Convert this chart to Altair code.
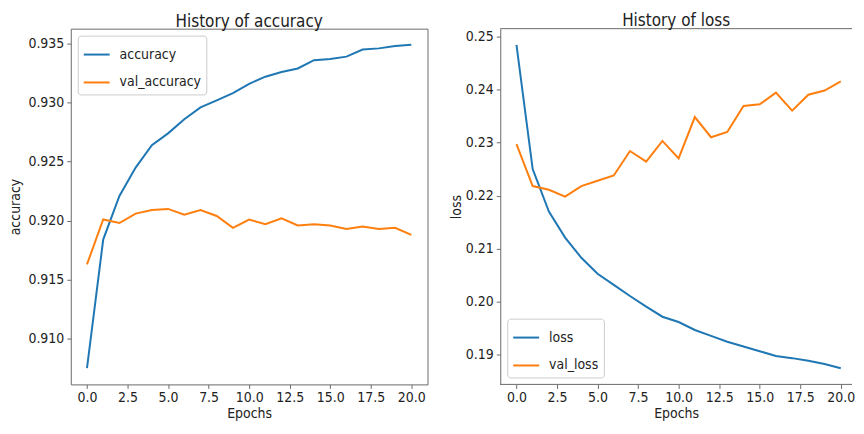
import altair as alt
import pandas as pd

epochs = list(range(21))
accuracy = [0.9075, 0.9184, 0.9221, 0.9245, 0.9264, 0.9274, 0.9286, 0.9296, 0.9302, 0.9308,
            0.9316, 0.9322, 0.9326, 0.9329, 0.9336, 0.9337, 0.9339, 0.9345, 0.9346, 0.9348, 0.9349]
val_accuracy = [0.9163, 0.9201, 0.9198, 0.9206, 0.9209, 0.9210, 0.9205, 0.9209, 0.9204, 0.9194,
                0.9201, 0.9197, 0.9202, 0.9196, 0.9197, 0.9196, 0.9193, 0.9195, 0.9193, 0.9194, 0.9188]
loss = [0.2484, 0.2250, 0.2170, 0.2121, 0.2083, 0.2053, 0.2032, 0.2011, 0.1991, 0.1972,
        0.1962, 0.1947, 0.1936, 0.1925, 0.1916, 0.1907, 0.1898, 0.1894, 0.1889, 0.1883, 0.1875]
val_loss = [0.2297, 0.2218, 0.2211, 0.2198, 0.2218, 0.2228, 0.2238, 0.2284, 0.2264, 0.2303,
            0.2270, 0.2348, 0.2310, 0.2320, 0.2369, 0.2372, 0.2394, 0.2360, 0.2390, 0.2398, 0.2415]

x_ticks = [0, 2.5, 5, 7.5, 10, 12.5, 15, 17.5, 20]
acc_ticks = [0.910, 0.915, 0.920, 0.925, 0.930, 0.935]
loss_ticks = [0.19, 0.20, 0.21, 0.22, 0.23, 0.24, 0.25]

BLUE = "#1f77b4"
ORANGE = "#ff7f0e"
FONT = "DejaVu Sans Condensed"
SPINE = "#6a6a6a"
TEXT = "#222222"


def padded(vals):
    lo, hi = min(vals), max(vals)
    m = (hi - lo) * 0.05
    return [lo - m, hi + m]


acc_df = pd.DataFrame({
    "epoch": epochs * 2,
    "value": accuracy + val_accuracy,
    "series": ["accuracy"] * 21 + ["val_accuracy"] * 21,
})
loss_df = pd.DataFrame({
    "epoch": epochs * 2,
    "value": loss + val_loss,
    "series": ["loss"] * 21 + ["val_loss"] * 21,
})


def x_axis():
    return alt.Axis(values=x_ticks, format=".1f", title="Epochs", grid=False,
                    tickSize=4, tickColor=SPINE, labelPadding=2, titlePadding=2)


def legend(orient):
    return alt.Legend(title=None, orient=orient, symbolType="stroke", symbolSize=676,
                      symbolStrokeWidth=2, labelFontSize=14, labelFont=FONT, labelColor=TEXT,
                      labelOffset=9, rowPadding=7, padding=5, offset=7,
                      fillColor="white", strokeColor="#cccccc", cornerRadius=3)


W = 358
RW = 353
H = 357
UNIT = W / 22

left = alt.Chart(acc_df).mark_line(strokeWidth=2, clip=True).encode(
    x=alt.X("epoch:Q", scale=alt.Scale(domain=[-1, 21], nice=False, zero=False), axis=x_axis()),
    y=alt.Y("value:Q", scale=alt.Scale(domain=padded(accuracy + val_accuracy), nice=False, zero=False),
            axis=alt.Axis(values=acc_ticks, format=".3f", title="accuracy", grid=False,
                          tickSize=4, tickColor=SPINE, labelPadding=3, titlePadding=6,
                          minExtent=42, maxExtent=42)),
    color=alt.Color("series:N", scale=alt.Scale(domain=["accuracy", "val_accuracy"], range=[BLUE, ORANGE]),
                    legend=legend("top-left")),
).properties(width=W, height=H,
             title=alt.TitleParams("History of accuracy", anchor="middle", offset=-2))

loss_lines = alt.Chart(loss_df).mark_line(strokeWidth=2, clip=True).encode(
    x=alt.X("epoch:Q", scale=alt.Scale(domain=[-1, -1 + RW / UNIT], nice=False, zero=False),
            axis=x_axis()),
    y=alt.Y("value:Q", scale=alt.Scale(domain=padded(loss + val_loss), nice=False, zero=False),
            axis=alt.Axis(values=loss_ticks, format=".2f", title="loss", grid=False,
                          domain=True, domainColor=SPINE,
                          tickSize=4, tickColor=SPINE, labelPadding=3, titlePadding=6,
                          minExtent=31, maxExtent=31)),
    color=alt.Color("series:N", scale=alt.Scale(domain=["loss", "val_loss"], range=[BLUE, ORANGE]),
                    legend=legend("bottom-left")),
)
top_edge = alt.Chart(pd.DataFrame({"edge": [0]})).mark_rule(color=SPINE, strokeWidth=1).encode(
    x=alt.value(0), x2=alt.value(RW), y=alt.value(0)
)
bottom_edge = alt.Chart(pd.DataFrame({"edge": [0]})).mark_rule(color=SPINE, strokeWidth=1).encode(
    x=alt.value(0), x2=alt.value(RW), y=alt.value(H)
)
right = alt.layer(loss_lines, top_edge, bottom_edge).properties(
    width=RW, height=H,
    title=alt.TitleParams("History of loss", anchor="middle", offset=-2),
    view=alt.ViewBackground(stroke="transparent"))

chart = alt.hconcat(left, right, spacing=20).resolve_scale(color="independent").resolve_legend(
    color="independent"
).properties(padding={"left": 0, "top": 3, "right": 0, "bottom": 0}).configure_axis(
    labelFont=FONT, titleFont=FONT, labelFontSize=14, titleFontSize=14,
    labelColor=TEXT, titleColor=TEXT, titleFontWeight="normal", domain=False,
).configure_title(
    font=FONT, fontSize=17, fontWeight="normal", color=TEXT
).configure_view(stroke=SPINE)

chart.save("out.html", embed_options={"renderer": "svg", "actions": False})
